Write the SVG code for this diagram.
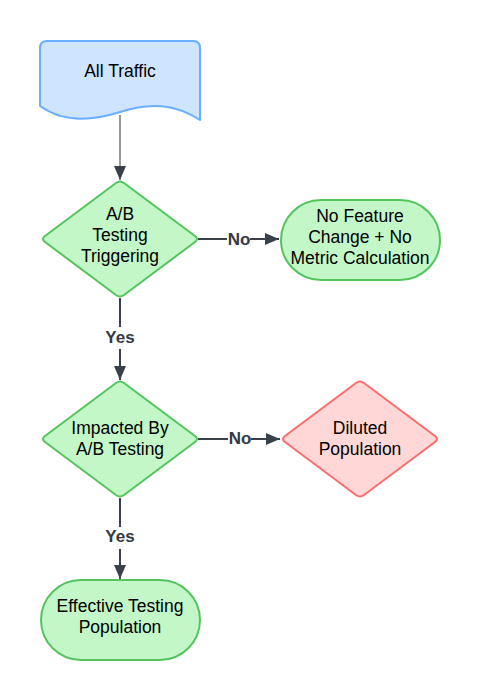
<svg xmlns="http://www.w3.org/2000/svg" width="480" height="700" viewBox="0 0 480 700">
<defs>
<marker id="ah" viewBox="0 0 14 12" refX="14" refY="6" markerWidth="14" markerHeight="12" markerUnits="userSpaceOnUse" orient="auto">
<path d="M0,0 L14,6 L0,12 Z" fill="#3a414a"/>
</marker>
<style>
text{font-family:"Liberation Sans",Arial,sans-serif;font-size:17.5px;fill:#000;text-anchor:middle}
.lbl{font-weight:bold;fill:#333a44;font-size:17px}
.g{fill:#c3f7c8;stroke:#54c45e;stroke-width:2;stroke-linejoin:round}
.r{fill:#ffd7d7;stroke:#fb6c6c;stroke-width:2;stroke-linejoin:round}
.b{fill:#cfe4ff;stroke:#6aaeff;stroke-width:2;stroke-linejoin:round}
.c{fill:none;stroke:#3a414a;stroke-width:2}
</style>
</defs>
<rect width="480" height="700" fill="#fff"/>
<g id="connectors">
<path d="M120,115 L120,180" fill="none" stroke="#333" stroke-width="1" marker-end="url(#ah)"/>
<path class="c" d="M198,239 L227,239 M250,239 L279,239" marker-end="url(#ah)"/>
<text class="lbl" x="239" y="245">No</text>
<path class="c" d="M120,298 L120,327 M120,349 L120,380" marker-end="url(#ah)"/>
<text class="lbl" x="120" y="343">Yes</text>
<path class="c" d="M198,439 L228,439 M251,439 L280,439" marker-end="url(#ah)"/>
<text class="lbl" x="240" y="444">No</text>
<path class="c" d="M120,498 L120,527 M120,549 L120,579" marker-end="url(#ah)"/>
<text class="lbl" x="120" y="542">Yes</text>
</g>
<g id="all-traffic">
<path class="b" d="M40,48 Q40,41 47,41 L193,41 Q200,41 200,48 L200,120 C175,104 150,102 120,112 C95,120 65,124 40,106 Z"/>
<text x="120" y="77">All Traffic</text>
</g>
<g id="ab-triggering">
<path class="g" d="M116,183 Q120,180 124,183 L195,236 Q199,239 195,242 L124,295 Q120,298 116,295 L45,242 Q41,239 45,236 Z"/>
<text x="120" y="220">A/B</text>
<text x="120" y="241">Testing</text>
<text x="120" y="262">Triggering</text>
</g>
<g id="no-feature-change">
<rect class="g" x="281" y="200" width="159" height="80" rx="40"/>
<text x="360" y="222">No Feature</text>
<text x="360" y="243">Change + No</text>
<text x="360" y="264">Metric Calculation</text>
</g>
<g id="impacted">
<path class="g" d="M116,383 Q120,380 124,383 L195,436 Q199,439 195,442 L124,495 Q120,498 116,495 L45,442 Q41,439 45,436 Z"/>
<text x="120" y="434">Impacted By</text>
<text x="120" y="455">A/B Testing</text>
</g>
<g id="diluted">
<path class="r" d="M356,383 Q360,380 364,383 L435,436 Q439,439 435,442 L364,495 Q360,498 356,495 L285,442 Q281,439 285,436 Z"/>
<text x="360" y="434">Diluted</text>
<text x="360" y="455">Population</text>
</g>
<g id="effective">
<rect class="g" x="41" y="580" width="159" height="80" rx="40"/>
<text x="120" y="612">Effective Testing</text>
<text x="120" y="633">Population</text>
</g>
</svg>
